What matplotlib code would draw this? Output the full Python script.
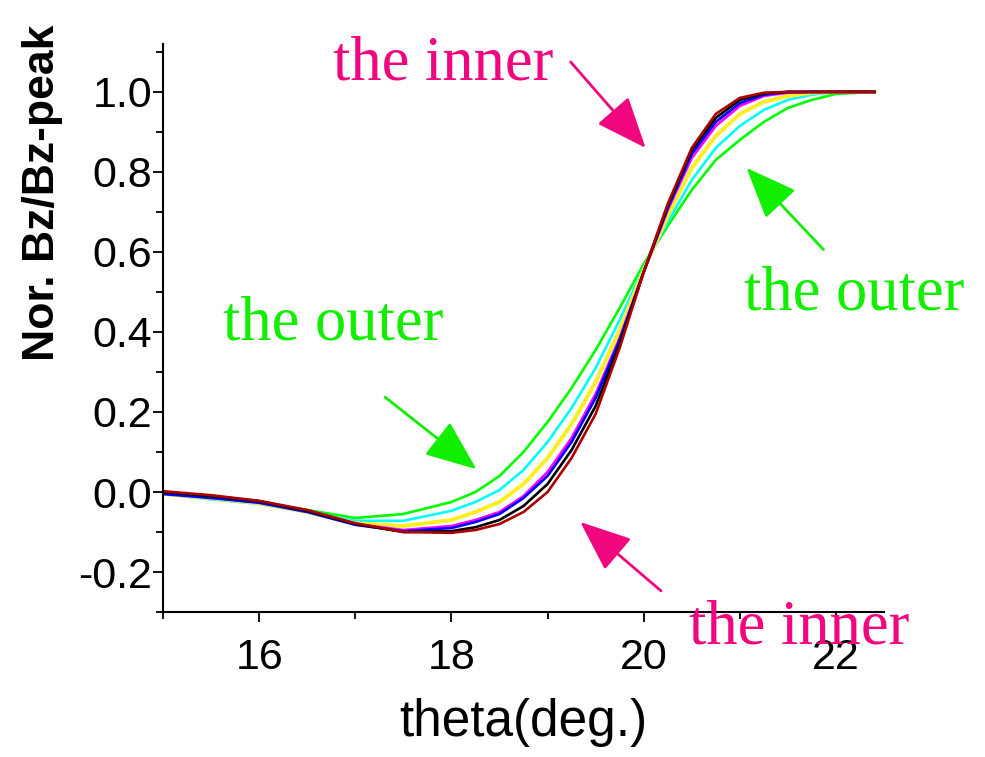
import numpy as np
import matplotlib
matplotlib.use('Agg')
import matplotlib.pyplot as plt
from matplotlib.ticker import MultipleLocator

# Normalised Bz profiles vs theta, from the outer to the inner radius
theta = [15.0, 15.5, 16.0, 16.5, 17.0, 17.5, 18.0, 18.25, 18.5, 18.75,
         19.0, 19.25, 19.5, 19.75, 20.0, 20.25, 20.5, 20.75, 21.0,
         21.25, 21.5, 21.75, 22.0, 22.4]

bz_green = [0.0, -0.010, -0.025, -0.045, -0.065, -0.055, -0.025, 0.0, 0.040, 0.100,
            0.175, 0.260, 0.355, 0.460, 0.570, 0.665, 0.755, 0.830, 0.880,
            0.925, 0.960, 0.980, 0.995, 1.0]
bz_cyan = [-0.005, -0.018, -0.030, -0.050, -0.072, -0.072, -0.047, -0.025, 0.005, 0.055,
           0.125, 0.210, 0.310, 0.430, 0.560, 0.675, 0.780, 0.860, 0.915,
           0.955, 0.980, 0.993, 1.0, 1.0]
bz_yellow = [-0.005, -0.015, -0.028, -0.050, -0.078, -0.085, -0.070, -0.050, -0.025, 0.020,
             0.085, 0.170, 0.275, 0.405, 0.555, 0.690, 0.810, 0.890, 0.945,
             0.975, 0.990, 0.998, 1.0, 1.0]
bz_magenta = [0.0, -0.012, -0.025, -0.048, -0.080, -0.095, -0.085, -0.070, -0.050, -0.010,
              0.050, 0.135, 0.245, 0.385, 0.550, 0.705, 0.835, 0.915, 0.965,
              0.990, 0.998, 1.0, 1.0, 1.0]
bz_blue = [-0.005, -0.015, -0.027, -0.050, -0.082, -0.098, -0.090, -0.075, -0.055, -0.015,
           0.040, 0.125, 0.235, 0.380, 0.550, 0.710, 0.845, 0.925, 0.972,
           0.993, 1.0, 1.0, 1.0, 1.0]
bz_black = [0.0, -0.010, -0.023, -0.047, -0.080, -0.100, -0.098, -0.088, -0.070, -0.035,
            0.020, 0.105, 0.215, 0.370, 0.550, 0.715, 0.855, 0.935, 0.980,
            0.996, 1.0, 1.0, 1.0, 1.0]
bz_red = [0.002, -0.008, -0.022, -0.045, -0.078, -0.100, -0.102, -0.095, -0.080, -0.050,
          0.0, 0.085, 0.195, 0.360, 0.550, 0.720, 0.860, 0.945, 0.985,
          0.998, 1.0, 1.0, 1.0, 1.0]

curves = [
    (bz_green, '#00ff00', 1.9),
    (bz_cyan, '#00ffff', 1.9),
    (bz_yellow, '#ffee22', 2.8),
    (bz_magenta, '#ff00ff', 1.9),
    (bz_blue, '#0000ff', 1.9),
    (bz_black, '#000000', 1.9),
    (bz_red, '#aa0000', 1.9),
]

pink = '#f0067e'
green = '#11ee00'

fig = plt.figure(figsize=(9.85, 7.57), dpi=100)
ax = fig.add_axes([0.1655, 0.1915, 0.732, 0.7505])

for vals, col, lw in curves:
    ax.plot(theta, vals, color=col, linewidth=lw, solid_joinstyle='round')

ax.set_xlim(15, 22.5)
ax.set_ylim(-0.3, 1.12)
ax.xaxis.set_major_locator(MultipleLocator(2))
ax.xaxis.set_minor_locator(MultipleLocator(1))
ax.yaxis.set_minor_locator(MultipleLocator(0.1))
ax.set_yticks([-0.2, 0.0, 0.2, 0.4, 0.6, 0.8, 1.0])
ax.set_yticklabels(['-0.2', '0.0', '0.2', '0.4', '0.6', '0.8', '1.0'])

for s in ['top', 'right']:
    ax.spines[s].set_visible(False)
for s in ['left', 'bottom']:
    ax.spines[s].set_linewidth(1.5)

tick_font = ['Liberation Sans', 'DejaVu Sans']
ax.tick_params(axis='both', which='major', length=7, width=1.3, direction='out')
ax.tick_params(axis='both', which='minor', length=5, width=1.3, direction='out')
ax.tick_params(axis='y', pad=1)
ax.tick_params(axis='x', pad=12)
for lab in ax.get_xticklabels() + ax.get_yticklabels():
    lab.set_fontfamily(tick_font)
    lab.set_fontsize(31)

ax.set_xlabel('theta(deg.)', fontsize=37, family=tick_font, labelpad=14)
fig.text(0.043, 0.745, 'Nor. Bz/Bz-peak', rotation=90, fontsize=32,
         fontweight='bold', family=['Liberation Sans', 'DejaVu Sans'],
         ha='center', va='center')

serif = ['Liberation Serif', 'DejaVu Serif']
arrow = dict(arrowstyle='-|>,head_length=1.6,head_width=0.65',
             mutation_scale=20, linewidth=2, shrinkA=0, shrinkB=0)

ax.text(16.77, 1.03, 'the inner', color=pink, fontsize=45, family=serif,
        va='baseline', ha='left', clip_on=False)
ax.annotate('', xy=(20.02, 0.86), xytext=(19.24, 1.075),
            arrowprops=dict(arrow, color=pink), annotation_clip=False)

ax.text(21.04, 0.456, 'the outer', color=green, fontsize=45, family=serif,
        va='baseline', ha='left', clip_on=False)
ax.annotate('', xy=(21.07, 0.81), xytext=(21.87, 0.606),
            arrowprops=dict(arrow, color=green), annotation_clip=False)

ax.text(15.62, 0.38, 'the outer', color=green, fontsize=45, family=serif,
        va='baseline', ha='left', clip_on=False)
ax.annotate('', xy=(18.26, 0.057), xytext=(17.31, 0.237),
            arrowprops=dict(arrow, color=green), annotation_clip=False)

ax.text(20.47, -0.379, 'the inner', color=pink, fontsize=45, family=serif,
        va='baseline', ha='left', clip_on=False, zorder=5)
ax.annotate('', xy=(19.34, -0.075), xytext=(20.18, -0.247),
            arrowprops=dict(arrow, color=pink), annotation_clip=False)

fig.savefig('out.png', dpi=100)
